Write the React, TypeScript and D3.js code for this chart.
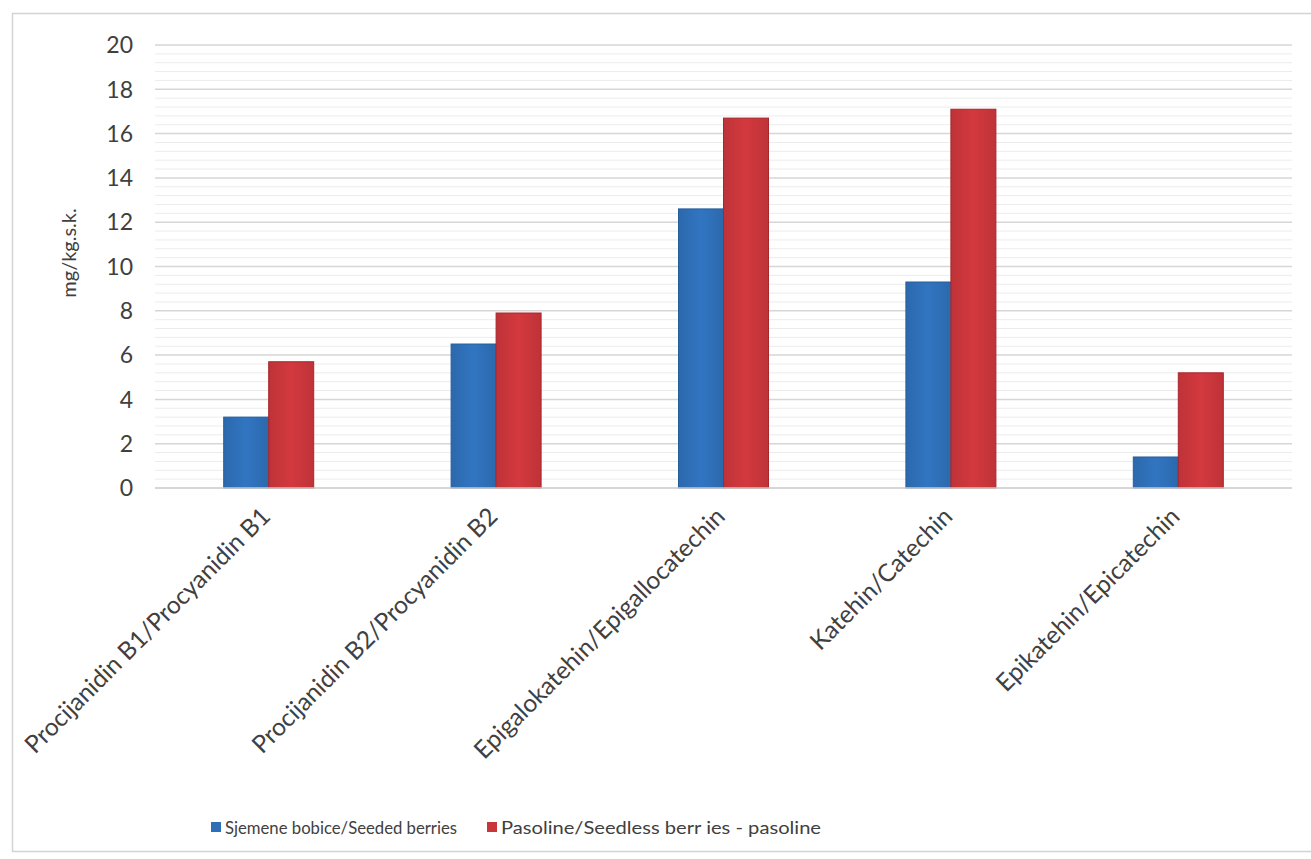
import * as d3 from "d3";
import { useEffect, useRef } from "react";

const W = 1311;
const H = 859;

const categories = [
  "Procijanidin B1/Procyanidin B1",
  "Procijanidin B2/Procyanidin B2",
  "Epigalokatehin/Epigallocatechin",
  "Katehin/Catechin",
  "Epikatehin/Epicatechin",
];
const seeded = [3.2, 6.5, 12.6, 9.3, 1.4];
const seedless = [5.7, 7.9, 16.7, 17.1, 5.2];
const seriesNames = ["Sjemene bobice/Seeded berries", "Pasoline/Seedless berr ies - pasoline"];
const yTicks = [0, 2, 4, 6, 8, 10, 12, 14, 16, 18, 20];

const colors = ["#2e6fb7", "#c8363b"];
const borders = ["#255d9c", "#a8262c"];
const font = "Lato, 'Open Sans', sans-serif";

const App = () => {
  const svgRef = useRef<SVGSVGElement>(null);

  useEffect(() => {
    const svg = d3.select(svgRef.current);
    svg.selectAll("*").remove();

    const m = { left: 155, right: 1292, top: 45, bottom: 488 };

    const x = d3.scaleBand().domain(categories).range([m.left, m.right]).padding(0);
    const y = d3.scaleLinear().domain([0, 20]).range([m.bottom, m.top]);
    const barW = 45;

    // gradients for bars
    const defs = svg.append("defs");
    colors.forEach((c, i) => {
      const g = defs.append("linearGradient").attr("id", "g" + i).attr("x1", "0").attr("x2", "1");
      const base = d3.color(c)!;
      g.append("stop").attr("offset", "0%").attr("stop-color", base.darker(0.15).toString());
      g.append("stop").attr("offset", "50%").attr("stop-color", base.brighter(0.15).toString());
      g.append("stop").attr("offset", "100%").attr("stop-color", base.darker(0.15).toString());
    });

    // outer frame
    svg.append("rect")
      .attr("x", 12.5).attr("y", 13.5)
      .attr("width", 1300).attr("height", 838)
      .attr("fill", "#fff").attr("stroke", "#d4d4d4").attr("stroke-width", 1.5);

    // minor gridlines
    const minor = d3.range(0, 20, 0.4).filter((v) => Math.abs(v / 2 - Math.round(v / 2)) > 0.01);
    svg.append("g").selectAll("line").data(minor).join("line")
      .attr("x1", m.left).attr("x2", m.right)
      .attr("y1", (d) => y(d)).attr("y2", (d) => y(d))
      .attr("stroke", "#ececec").attr("stroke-width", 1);

    // major gridlines
    svg.append("g").selectAll("line").data(yTicks.slice(1)).join("line")
      .attr("x1", m.left).attr("x2", m.right)
      .attr("y1", (d) => y(d)).attr("y2", (d) => y(d))
      .attr("stroke", "#d6d6d6").attr("stroke-width", 1.5);

    // y tick labels
    svg.append("g").selectAll("text").data(yTicks).join("text")
      .attr("x", 133).attr("y", (d) => y(d)).attr("dy", "0.36em")
      .attr("text-anchor", "end")
      .attr("font-family", font).attr("font-size", 23).attr("fill", "#404040")
      .text((d) => d);

    // y axis title
    svg.append("text")
      .attr("transform", `translate(76,253) rotate(-90)`)
      .attr("text-anchor", "middle")
      .attr("font-family", font).attr("font-size", 20).attr("fill", "#404040")
      .text("mg/kg.s.k.");

    // bars
    const groups = svg.append("g").selectAll("g").data(categories).join("g");
    [seeded, seedless].forEach((vals, si) => {
      groups.append("rect")
        .attr("x", (d) => x(d)! + x.bandwidth() / 2 - barW + si * barW)
        .attr("y", (d, i) => y(vals[i]))
        .attr("width", barW)
        .attr("height", (d, i) => y(0) - y(vals[i]))
        .attr("fill", `url(#g${si})`)
        .attr("stroke", borders[si]).attr("stroke-width", 1);
    });

    // x axis line
    svg.append("line")
      .attr("x1", m.left).attr("x2", m.right)
      .attr("y1", y(0)).attr("y2", y(0))
      .attr("stroke", "#c8c8c8").attr("stroke-width", 1.5);

    // category labels
    svg.append("g").selectAll("text").data(categories).join("text")
      .attr("transform", (d) => `translate(${x(d)! + x.bandwidth() / 2 + 3},${y(0) + 30}) rotate(-45)`)
      .attr("text-anchor", "end")
      .attr("font-family", font).attr("font-size", 24.5).attr("fill", "#404040")
      .text((d) => d);

    // legend
    const lx = [211, 487];
    const lw = [232, 320];
    const leg = svg.append("g").selectAll("g").data(seriesNames).join("g")
      .attr("transform", (d, i) => `translate(${lx[i]},828)`);
    leg.append("rect").attr("x", 0).attr("y", -6).attr("width", 10).attr("height", 10)
      .attr("fill", (d, i) => colors[i]);
    leg.append("text").attr("x", 14).attr("y", 0).attr("dy", "0.35em")
      .attr("font-family", font).attr("font-size", 18).attr("fill", "#404040")
      .attr("textLength", (d, i) => lw[i]).attr("lengthAdjust", "spacingAndGlyphs")
      .text((d) => d);
  }, []);

  return (
    <svg ref={svgRef} width={W} height={H} style={{ position: "absolute", left: 0, top: 0 }}></svg>
  );
};

export default App;
